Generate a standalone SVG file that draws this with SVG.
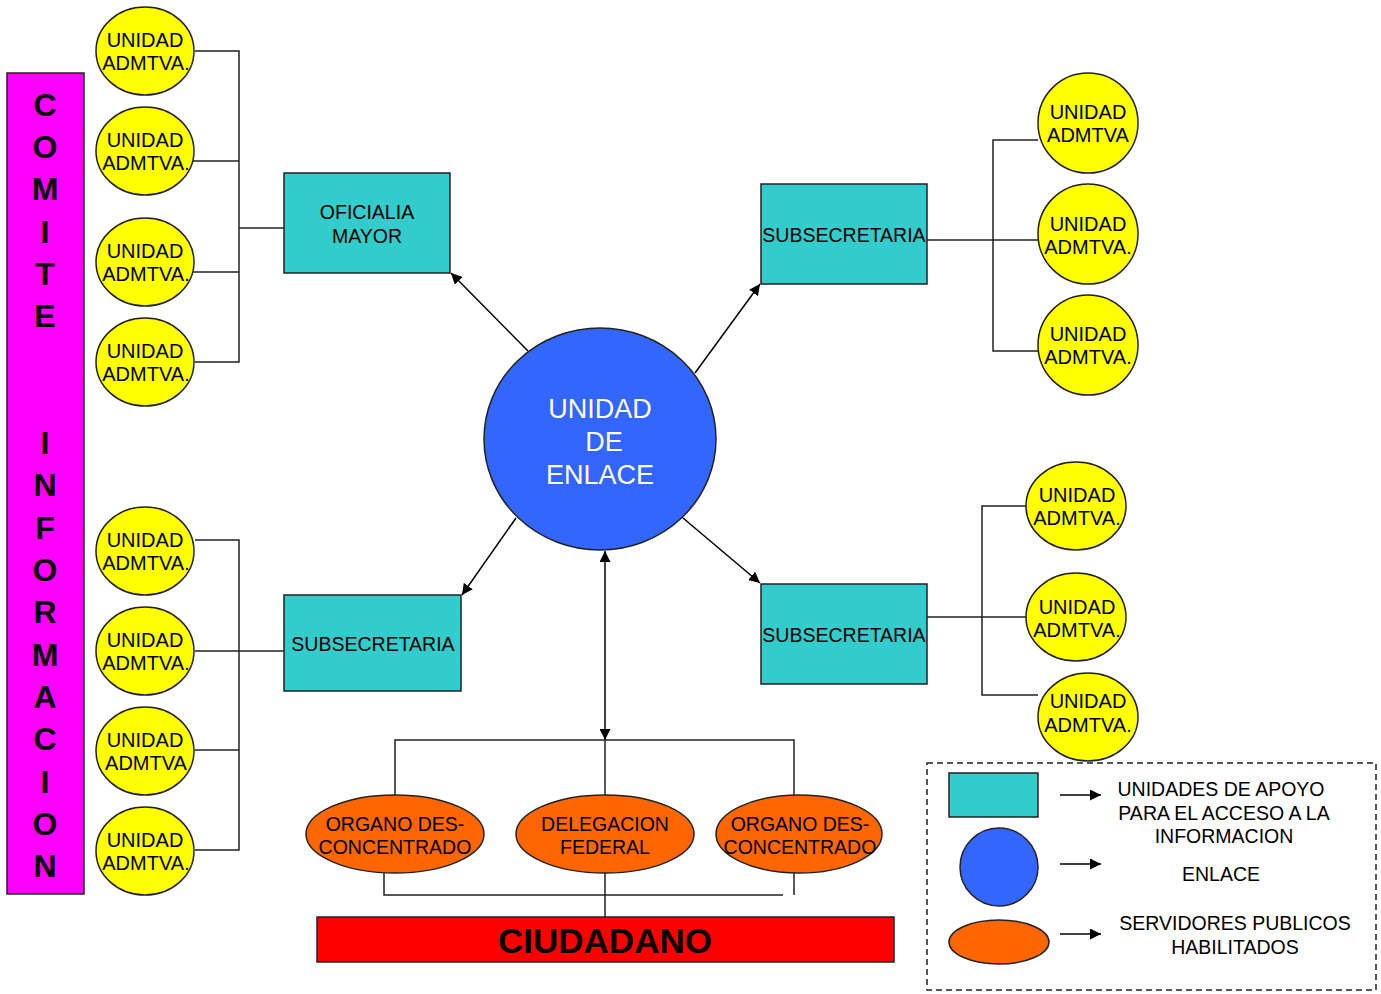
<svg xmlns="http://www.w3.org/2000/svg" width="1381" height="994" viewBox="0 0 1381 994">
<defs>
<marker id="ah" viewBox="0 0 10 10" refX="10" refY="5" markerWidth="11" markerHeight="11" markerUnits="userSpaceOnUse" orient="auto-start-reverse">
<path d="M0,0 L10,5 L0,10 z" fill="#000"/>
</marker>
<style>
text{font-family:"Liberation Sans",Arial,sans-serif;fill:#000;text-anchor:middle}
.u{fill:#FFFF00;stroke:#222;stroke-width:1.5}
.box{fill:#33CCCC;stroke:#222;stroke-width:1.5}
.org{fill:#FF6600;stroke:#222;stroke-width:1.5}
.t{font-size:19.5px}
.v{font-size:20px}
.c{font-size:32px;font-weight:bold}
.ln{fill:none;stroke:#222;stroke-width:1.5}
.ar{fill:none;stroke:#000;stroke-width:1.5;marker-end:url(#ah)}
</style>
</defs>
<rect width="1381" height="994" fill="#fff"/>

<g id="comite">
<rect x="7" y="73" width="77" height="821" fill="#FF00FF" stroke="#222" stroke-width="1.5"/>
<text class="c" x="45" y="115.5">C</text>
<text class="c" x="45" y="158">O</text>
<text class="c" x="45" y="200">M</text>
<text class="c" x="45" y="242.5">I</text>
<text class="c" x="45" y="285">T</text>
<text class="c" x="45" y="327">E</text>
<text class="c" x="45" y="454">I</text>
<text class="c" x="45" y="496">N</text>
<text class="c" x="45" y="538.5">F</text>
<text class="c" x="45" y="581">O</text>
<text class="c" x="45" y="623">R</text>
<text class="c" x="45" y="665.5">M</text>
<text class="c" x="45" y="708">A</text>
<text class="c" x="45" y="750">C</text>
<text class="c" x="45" y="792.5">I</text>
<text class="c" x="45" y="835">O</text>
<text class="c" x="45" y="877">N</text>
</g>

<g id="connectors">
<polyline class="ln" points="195,51 239,51 239,362 195,362"/>
<line class="ln" x1="193" y1="161" x2="239" y2="161"/>
<line class="ln" x1="193" y1="272" x2="239" y2="272"/>
<line class="ln" x1="239" y1="228" x2="284" y2="228"/>
<polyline class="ln" points="195,540 239,540 239,850 195,850"/>
<line class="ln" x1="195" y1="651" x2="284" y2="651"/>
<line class="ln" x1="195" y1="750" x2="239" y2="750"/>
<polyline class="ln" points="1038,140 993,140 993,351 1038,351"/>
<line class="ln" x1="927" y1="240" x2="1038" y2="240"/>
<polyline class="ln" points="1026,506 982,506 982,695 1038,695"/>
<line class="ln" x1="927" y1="617" x2="1026" y2="617"/>
<line class="ar" x1="528" y1="351" x2="451" y2="273"/>
<line class="ar" x1="695" y1="373" x2="760" y2="284"/>
<line class="ar" x1="516" y1="518" x2="462" y2="595"/>
<line class="ar" x1="683" y1="518" x2="760" y2="583"/>
<line class="ar" x1="605" y1="600" x2="605" y2="551"/>
<line class="ar" x1="605" y1="600" x2="605" y2="740"/>
<polyline class="ln" points="395,795 395,740 794,740 794,795"/>
<line class="ln" x1="605" y1="740" x2="605" y2="795"/>
<polyline class="ln" points="384,873 384,895 783,895"/>
<line class="ln" x1="794" y1="873" x2="794" y2="895"/>
<line class="ln" x1="605" y1="873" x2="605" y2="917"/>
</g>

<g id="ua-tl1"><ellipse class="u" cx="145" cy="51" rx="49" ry="44"/><text class="v" x="145" y="47">UNIDAD</text><text class="v" x="146" y="70">ADMTVA.</text></g>
<g id="ua-tl2"><ellipse class="u" cx="145" cy="151" rx="49" ry="44"/><text class="v" x="145" y="147">UNIDAD</text><text class="v" x="146" y="170">ADMTVA.</text></g>
<g id="ua-tl3"><ellipse class="u" cx="145" cy="262" rx="49" ry="44"/><text class="v" x="145" y="258">UNIDAD</text><text class="v" x="146" y="281">ADMTVA.</text></g>
<g id="ua-tl4"><ellipse class="u" cx="145" cy="362" rx="49" ry="44"/><text class="v" x="145" y="358">UNIDAD</text><text class="v" x="146" y="381">ADMTVA.</text></g>

<g id="ua-bl1"><ellipse class="u" cx="145" cy="551" rx="49" ry="44"/><text class="v" x="145" y="547">UNIDAD</text><text class="v" x="146" y="570">ADMTVA.</text></g>
<g id="ua-bl2"><ellipse class="u" cx="145" cy="651" rx="49" ry="44"/><text class="v" x="145" y="647">UNIDAD</text><text class="v" x="146" y="670">ADMTVA.</text></g>
<g id="ua-bl3"><ellipse class="u" cx="145" cy="751" rx="49" ry="44"/><text class="v" x="145" y="747">UNIDAD</text><text class="v" x="146" y="770">ADMTVA</text></g>
<g id="ua-bl4"><ellipse class="u" cx="145" cy="851" rx="49" ry="44"/><text class="v" x="145" y="847">UNIDAD</text><text class="v" x="146" y="870">ADMTVA.</text></g>

<g id="oficialia"><rect class="box" x="284" y="173" width="166" height="100"/><text class="t" x="367" y="219">OFICIALIA</text><text class="t" x="367" y="243">MAYOR</text></g>
<g id="subsec-bl"><rect class="box" x="284" y="595" width="177" height="96"/><text class="t" x="373" y="651">SUBSECRETARIA</text></g>
<g id="subsec-tr"><rect class="box" x="761" y="184" width="166" height="100"/><text class="t" x="844" y="242">SUBSECRETARIA</text></g>
<g id="subsec-br"><rect class="box" x="761" y="584" width="166" height="100"/><text class="t" x="844" y="642">SUBSECRETARIA</text></g>

<g id="ua-tr1"><ellipse class="u" cx="1088" cy="123" rx="50" ry="50"/><text class="v" x="1088" y="119">UNIDAD</text><text class="v" x="1088" y="142">ADMTVA</text></g>
<g id="ua-tr2"><ellipse class="u" cx="1088" cy="234" rx="50" ry="50"/><text class="v" x="1088" y="231">UNIDAD</text><text class="v" x="1088" y="254">ADMTVA.</text></g>
<g id="ua-tr3"><ellipse class="u" cx="1088" cy="345" rx="50" ry="50"/><text class="v" x="1088" y="341">UNIDAD</text><text class="v" x="1088" y="364">ADMTVA.</text></g>

<g id="ua-br1"><ellipse class="u" cx="1076" cy="506" rx="50" ry="44"/><text class="v" x="1077" y="502">UNIDAD</text><text class="v" x="1077" y="525">ADMTVA.</text></g>
<g id="ua-br2"><ellipse class="u" cx="1076" cy="617" rx="50" ry="44"/><text class="v" x="1077" y="614">UNIDAD</text><text class="v" x="1077" y="637">ADMTVA.</text></g>
<g id="ua-br3"><ellipse class="u" cx="1088" cy="717" rx="50" ry="44"/><text class="v" x="1088" y="708">UNIDAD</text><text class="v" x="1088" y="732">ADMTVA.</text></g>

<g id="enlace">
<ellipse cx="600" cy="439" rx="116" ry="111" fill="#3366FF" stroke="#222" stroke-width="1.5"/>
<text x="600" y="417.5" font-size="27" style="fill:#fff">UNIDAD</text>
<text x="604" y="450.5" font-size="27" style="fill:#fff">DE</text>
<text x="600" y="483.5" font-size="27" style="fill:#fff">ENLACE</text>
</g>

<g id="organo1"><ellipse class="org" cx="395" cy="834" rx="89" ry="39"/><text class="t" x="395" y="831">ORGANO DES-</text><text class="t" x="395" y="854">CONCENTRADO</text></g>
<g id="delegacion"><ellipse class="org" cx="605" cy="834" rx="89" ry="39"/><text class="t" x="605" y="831">DELEGACION</text><text class="t" x="605" y="854">FEDERAL</text></g>
<g id="organo2"><ellipse class="org" cx="799" cy="834" rx="83" ry="39"/><text class="t" x="800" y="831">ORGANO DES-</text><text class="t" x="800" y="854">CONCENTRADO</text></g>

<g id="ciudadano">
<rect x="317" y="917" width="577" height="45" fill="#FF0000" stroke="#222" stroke-width="1.5"/>
<text x="605" y="953" font-size="35" font-weight="bold">CIUDADANO</text>
</g>

<g id="legend">
<rect x="927" y="763" width="449" height="227" fill="none" stroke="#222" stroke-width="1.5" stroke-dasharray="6,4"/>
<rect class="box" x="949" y="773" width="89" height="44"/>
<ellipse cx="999" cy="867" rx="39" ry="39" fill="#3366FF" stroke="#222" stroke-width="1.5"/>
<ellipse class="org" cx="999" cy="942" rx="50" ry="22"/>
<line class="ar" x1="1060" y1="795" x2="1101" y2="795"/>
<line class="ar" x1="1060" y1="864" x2="1101" y2="864"/>
<line class="ar" x1="1060" y1="934" x2="1101" y2="934"/>
<text class="t" x="1221" y="796">UNIDADES DE APOYO</text>
<text class="t" x="1224" y="820">PARA EL ACCESO A LA</text>
<text class="t" x="1224" y="843">INFORMACION</text>
<text class="t" x="1221" y="881">ENLACE</text>
<text class="t" x="1235" y="930">SERVIDORES PUBLICOS</text>
<text class="t" x="1235" y="954">HABILITADOS</text>
</g>
</svg>
